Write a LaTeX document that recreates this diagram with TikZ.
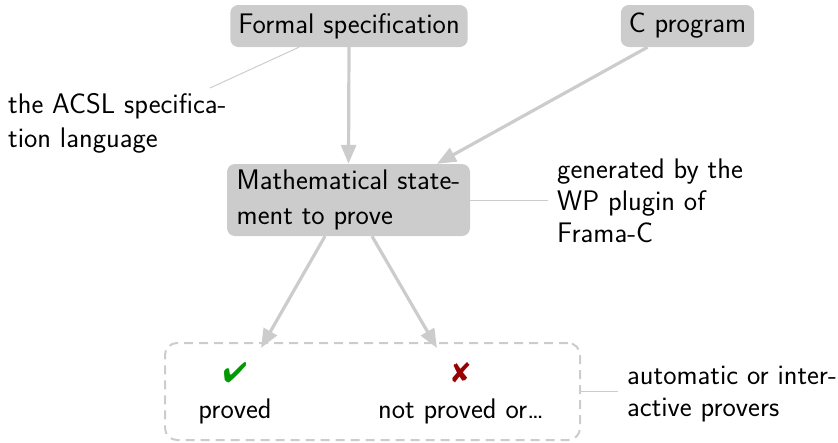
\documentclass[tikz,border=0pt]{standalone}
\usepackage{pifont}
\usetikzlibrary{arrows.meta}
\definecolor{boxgray}{HTML}{CCCCCC}
\definecolor{okgreen}{HTML}{009900}
\definecolor{kored}{HTML}{990000}
\begin{document}
\begin{tikzpicture}[x=1pt,y=-1pt,
  every node/.style={font=\sffamily\fontsize{28.3}{32}\selectfont},
  graybox/.style={fill=boxgray, rounded corners=8pt, inner xsep=8pt, minimum height=42pt, align=left},
  flow/.style={draw=boxgray, line width=3.2pt, -{Triangle[length=19pt,width=15pt]}},
  note/.style={anchor=north west, inner sep=0pt, align=left},
  noteline/.style={draw=boxgray, line width=1pt}]
\useasboundingbox (0,0) rectangle (838,442);
\node[graybox] (fs) at (349,26) {Formal specification};
\node[graybox] (cp) at (687.5,26) {C program};
\node[graybox, minimum width=243pt, minimum height=72pt, inner ysep=4pt, font=\sffamily\fontsize{28.3}{35}\selectfont] (ms) at (348.5,200) {Mathematical state-\\ment to prove};
\node[draw=boxgray, dash pattern=on 9pt off 6pt, line width=2pt, rounded corners=12pt, minimum width=415pt, minimum height=97pt] (pv) at (372.5,391.5) {};
\node[align=center, inner sep=0pt, font=\sffamily\fontsize{28.3}{36}\selectfont] (ok) at (235,393) {\textcolor{okgreen}{\ding{52}}\\proved};
\node[align=center, inner sep=0pt, font=\sffamily\fontsize{28.3}{36}\selectfont] (ko) at (461,393) {\textcolor{kored}{\ding{56}}\\not proved or\ldots};
\node[note, font=\sffamily\fontsize{28.3}{34}\selectfont] (acsl) at (8,93) {the ACSL specifica-\\tion language};
\node[note] (wp) at (557,158.4) {generated by the\\WP plugin of\\Frama-C};
\node[note] (ap) at (627,365.5) {automatic or inter-\\active provers};
\coordinate (c1) at (210,88);
\coordinate (c2) at (548,200);
\coordinate (c3) at (618,391.5);
\draw[noteline] (c1) -- ([xshift=-50pt]fs.south);
\draw[noteline] (ms.east) -- (c2);
\draw[noteline] (pv.east) -- (c3);
\draw[flow] (fs.south) -- (ms.north);
\draw[flow] ([xshift=-40pt]cp.south) -- ([xshift=88.5pt]ms.north);
\draw[flow] ([xshift=-23.5pt]ms.south) -- ([xshift=-111.5pt,yshift=-6pt]pv.north);
\draw[flow] ([xshift=23.5pt]ms.south) -- ([xshift=64.5pt,yshift=-6pt]pv.north);
\end{tikzpicture}
\end{document}
